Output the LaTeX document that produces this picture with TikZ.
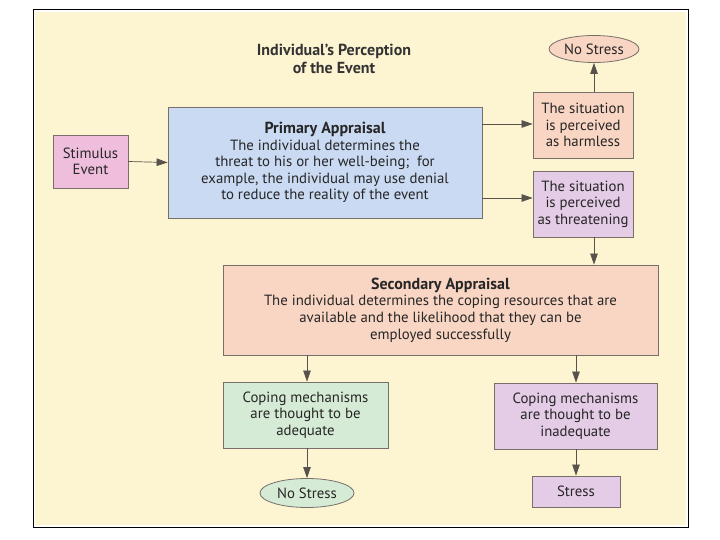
\documentclass[tikz,border=0pt]{standalone}
\usepackage{fontspec}
\setmainfont{PT Sans}
\usepackage{xcolor}
\usetikzlibrary{positioning,arrows.meta,shapes.geometric}

\definecolor{creambg}{HTML}{FDF5D2}
\definecolor{peachfill}{HTML}{F9D5C3}
\definecolor{lavfill}{HTML}{E4CCE6}
\definecolor{bluefill}{HTML}{C9DAF2}
\definecolor{pinkfill}{HTML}{F0BEDD}
\definecolor{greenfill}{HTML}{D5EBD5}
\definecolor{edgegray}{HTML}{77706A}
\definecolor{arrowgray}{HTML}{57524C}

\newcommand{\headfont}{\fontsize{16}{17}\selectfont\bfseries}

\begin{document}
\begin{tikzpicture}[
	x=1pt, y=-1pt,
	font=\fontsize{14.8}{16.6}\selectfont,
	% Style cho các hộp
	box/.style={rectangle, draw=edgegray, line width=0.8pt, align=center, inner sep=1pt, text=black!85},
	% Style cho các hình elip (kết quả)
	oval/.style={ellipse, draw=edgegray, line width=0.8pt, inner sep=0pt, text=black!85},
	% Style cho các mũi tên
	flow_arrow/.style={
		-{Triangle[length=11pt, width=7.5pt]},
		draw=arrowgray, line width=0.7pt, color=arrowgray
	},
	% Style cho tiêu đề
	title_text/.style={font=\fontsize{16}{17.5}\selectfont\bfseries, align=center, text=black!80}
	]
	
	% ================= Khung và nền =================
	\useasboundingbox (0,0) rectangle (720,540);
	\fill[white] (0,0) rectangle (720,540);
	\fill[creambg] (35,12) rectangle (686,525);
	\draw[black, line width=1pt] (33,10) rectangle (688,527);
	
	% ================= Tiêu đề =================
	\node[title_text] (title) at (334,59) {Individual's Perception\\of the Event};
	
	% ================= Hàng trên: kích thích và đánh giá sơ cấp =================
	\node[box, fill=pinkfill, minimum width=75, minimum height=53] (stimulus) at (90.5,161.5) {Stimulus\\Event};
	
	\node[box, fill=bluefill, minimum width=314, minimum height=111] (primary) at (325,162.5)
		{{\headfont Primary Appraisal}\\The individual determines the\\threat to his or her well-being;\ \ for\\example, the individual may use denial\\to reduce the reality of the event};
	
	\node[box, fill=peachfill, minimum width=100, minimum height=66] (harmless) at (583,125) {The situation\\is perceived\\as harmless};
	\node[box, fill=lavfill, minimum width=100, minimum height=66] (threat) at (583,204) {The situation\\is perceived\\as threatening};
	
	\node[oval, fill=peachfill, minimum width=90, minimum height=27] (nostress1) at (594,49) {No Stress};
	
	% ================= Đánh giá thứ cấp =================
	\node[box, fill=peachfill, minimum width=435, minimum height=90] (secondary) at (440.5,310)
		{{\headfont Secondary Appraisal}\\The individual determines the coping resources that are\\available and the likelihood that they can be\\employed successfully};
	
	% ================= Hàng dưới: kết quả đối phó =================
	\node[box, fill=greenfill, minimum width=165, minimum height=66] (adequate) at (305.5,415) {Coping mechanisms\\are thought to be\\adequate};
	\node[box, fill=lavfill, minimum width=163, minimum height=66] (inadequate) at (575.5,416) {Coping mechanisms\\are thought to be\\inadequate};
	
	\node[oval, fill=greenfill, minimum width=94, minimum height=29] (nostress2) at (307,493) {No Stress};
	\node[box, fill=lavfill, minimum width=88, minimum height=31] (stress) at (576,491.5) {Stress};
	
	% Điểm phụ cho các mũi tên
	\coordinate (p_top) at (482,124);
	\coordinate (p_bot) at (482,198);
	
	% ================= Mũi tên =================
	\draw[flow_arrow] (stimulus.east) -- (primary.west);
	\draw[flow_arrow] (p_top) -- (harmless.west |- p_top);
	\draw[flow_arrow] (p_bot) -- (threat.west |- p_bot);
	\draw[flow_arrow] (harmless.north -| nostress1.south) -- (nostress1.south);
	\draw[flow_arrow] (threat.south -| nostress1.south) -- (secondary.north -| nostress1.south);
	\draw[flow_arrow] (secondary.south -| nostress2.north) -- (adequate.north -| nostress2.north);
	\draw[flow_arrow] (secondary.south -| stress.north) -- (inadequate.north -| stress.north);
	\draw[flow_arrow] (adequate.south -| nostress2.north) -- (nostress2.north);
	\draw[flow_arrow] (inadequate.south -| stress.north) -- (stress.north);
	
\end{tikzpicture}
\end{document}
